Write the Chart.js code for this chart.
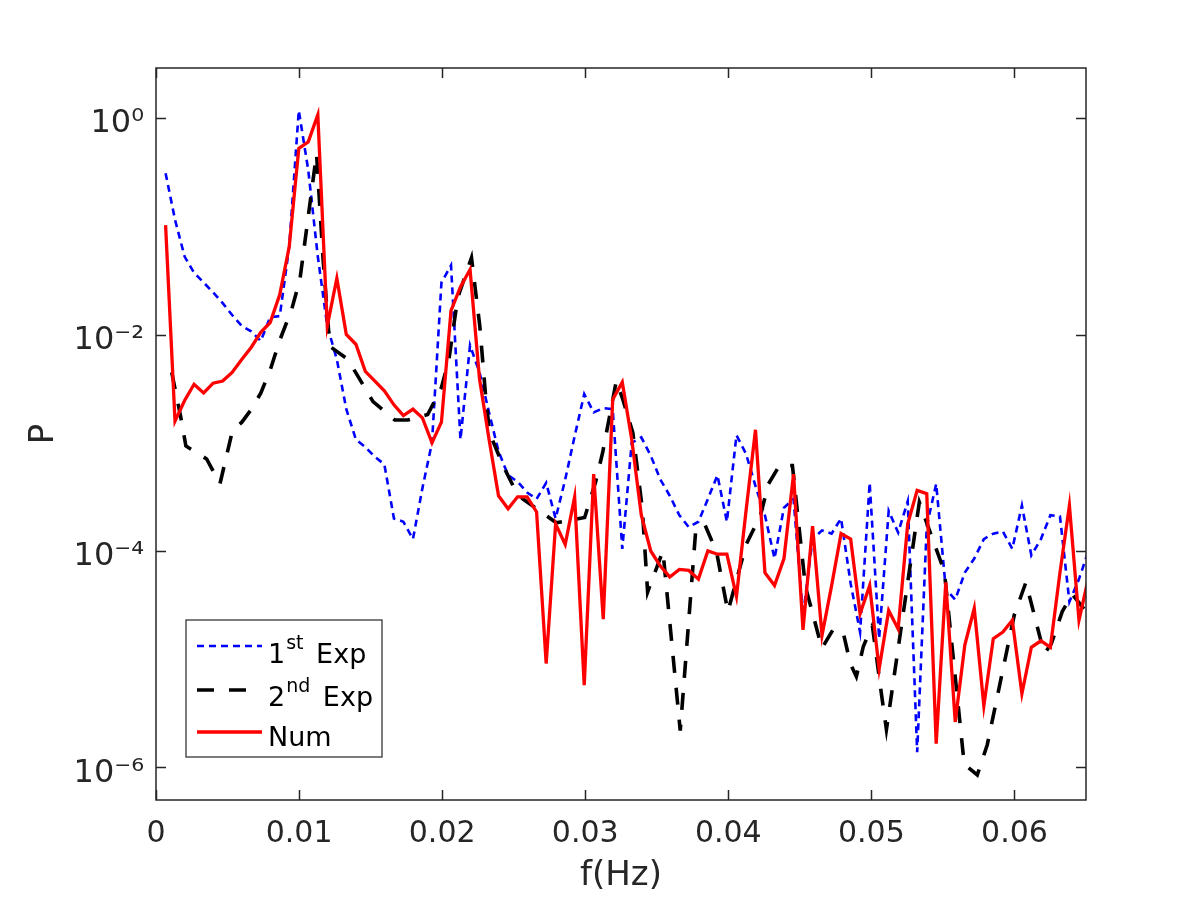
<!DOCTYPE html>
<html>
<head>
<meta charset="utf-8">
<title>P vs f</title>
<script src="https://cdn.jsdelivr.net/npm/chart.js@4.4.1/dist/chart.umd.min.js"></script>
<style>
  html, body { margin: 0; padding: 0; background: #ffffff; }
  #wrap { width: 1200px; height: 900px; }
</style>
</head>
<body>
<div id="wrap"><canvas id="psdChart" width="1200" height="900"></canvas></div>
<script>
// frequency grid (Hz) of the 1st Exp and Num spectra
const freq = [
  0.00067, 0.00133, 0.00200, 0.00266, 0.00333, 0.00399, 0.00466, 0.00532, 0.00599, 0.00665,
  0.00732, 0.00798, 0.00865, 0.00931, 0.00998, 0.01064, 0.01131, 0.01197, 0.01264, 0.01330,
  0.01397, 0.01463, 0.01530, 0.01596, 0.01663, 0.01729, 0.01796, 0.01862, 0.01929, 0.01995,
  0.02062, 0.02128, 0.02195, 0.02261, 0.02328, 0.02394, 0.02461, 0.02527, 0.02594, 0.02660,
  0.02727, 0.02793, 0.02860, 0.02926, 0.02993, 0.03059, 0.03126, 0.03192, 0.03259, 0.03325,
  0.03392, 0.03458, 0.03525, 0.03591, 0.03658, 0.03724, 0.03791, 0.03857, 0.03924, 0.03990,
  0.04057, 0.04123, 0.04190, 0.04256, 0.04323, 0.04389, 0.04456, 0.04522, 0.04589, 0.04655,
  0.04722, 0.04788, 0.04855, 0.04921, 0.04988, 0.05054, 0.05121, 0.05187, 0.05254, 0.05320,
  0.05387, 0.05453, 0.05520, 0.05586, 0.05653, 0.05719, 0.05786, 0.05852, 0.05919, 0.05985,
  0.06052, 0.06118, 0.06185, 0.06251, 0.06318, 0.06384, 0.06451, 0.06517
];

// log10(P)
const exp1Log = [
  -0.51, -0.94, -1.28, -1.43, -1.52, -1.61, -1.71, -1.82, -1.92, -1.97,
  -2.06, -1.84, -1.83, -1.19,  0.07, -0.48, -1.28, -1.92, -2.23, -2.69,
  -2.97, -3.04, -3.13, -3.20, -3.70, -3.73, -3.89, -3.42, -3.00, -1.52,
  -1.36, -2.97, -2.10, -2.35, -2.72, -3.08, -3.30, -3.36, -3.46, -3.52,
  -3.37, -3.70, -3.34, -2.94, -2.55, -2.72, -2.68, -2.69, -3.98, -3.00,
  -2.95, -3.12, -3.34, -3.49, -3.67, -3.78, -3.73, -3.52, -3.30, -3.73,
  -2.93, -3.10, -3.40, -3.67, -4.07, -3.60, -3.52, -4.60, -3.89, -3.81,
  -3.84, -3.70, -4.30, -4.75, -3.37, -4.81, -3.63, -3.83, -3.54, -5.86,
  -3.77, -3.38, -4.35, -4.45, -4.20, -4.07, -3.89, -3.84, -3.82, -3.98,
  -3.58, -4.04, -3.89, -3.67, -3.68, -4.47, -4.26, -4.00
];

const numLog = [
  -0.99, -2.80, -2.61, -2.46, -2.54, -2.45, -2.43, -2.35, -2.23, -2.12,
  -1.98, -1.89, -1.63, -1.19, -0.28, -0.22,  0.03, -1.92, -1.48, -2.00,
  -2.09, -2.34, -2.43, -2.52, -2.65, -2.75, -2.69, -2.77, -3.00, -2.81,
  -1.78, -1.56, -1.40, -2.41, -2.97, -3.49, -3.61, -3.50, -3.50, -3.64,
  -5.04, -3.75, -3.94, -3.50, -5.24, -3.29, -4.63, -2.60, -2.44, -2.97,
  -3.67, -4.00, -4.14, -4.24, -4.17, -4.18, -4.26, -4.00, -4.03, -4.03,
  -4.42, -3.64, -2.88, -4.20, -4.32, -4.07, -3.29, -4.73, -3.77, -4.78,
  -4.32, -3.84, -3.89, -4.58, -4.32, -5.09, -4.55, -4.72, -3.75, -3.44,
  -3.47, -5.78, -4.29, -5.58, -4.87, -4.53, -5.43, -4.81, -4.75, -4.64,
  -5.32, -4.89, -4.83, -4.89, -4.20, -3.58, -4.64, -4.25
];

// 2nd Exp: its own sample points (Hz) and log10(P)
const exp2Freq = [
  0.00110, 0.00171, 0.00209, 0.00354, 0.00447, 0.00534, 0.00600, 0.00667, 0.00733, 0.00800,
  0.00866, 0.00948, 0.01006, 0.01064, 0.01122, 0.01168, 0.01215, 0.01341, 0.01517, 0.01669,
  0.01760, 0.01899, 0.01995, 0.02046, 0.02109, 0.02205, 0.02263, 0.02304, 0.02332, 0.02425,
  0.02519, 0.02565, 0.02693, 0.02798, 0.02996, 0.03073, 0.03122, 0.03217, 0.03263, 0.03333,
  0.03399, 0.03436, 0.03543, 0.03664, 0.03771, 0.03834, 0.03918, 0.03997, 0.04125, 0.04225,
  0.04281, 0.04358, 0.04448, 0.04539, 0.04602, 0.04654, 0.04735, 0.04804, 0.04853, 0.04895,
  0.04944, 0.05007, 0.05068, 0.05105, 0.05335, 0.05510, 0.05649, 0.05740, 0.05810, 0.05999,
  0.06080, 0.06208, 0.06257, 0.06334, 0.06404, 0.06494
];
const exp2Log = [
  -2.35, -2.75, -3.03, -3.15, -3.38, -2.89, -2.81, -2.69, -2.54, -2.32,
  -2.05, -1.77, -1.49, -0.91, -0.33, -1.31, -2.11, -2.23, -2.62, -2.79,
  -2.79, -2.74, -2.49, -2.24, -1.66, -1.29, -1.92, -2.57, -2.91, -3.21,
  -3.46, -3.52, -3.64, -3.74, -3.69, -3.36, -3.09, -2.43, -2.60, -2.91,
  -3.61, -4.38, -4.00, -5.66, -3.83, -3.75, -4.01, -4.56, -3.94, -3.67,
  -3.38, -3.21, -3.21, -4.33, -4.64, -4.90, -4.72, -4.76, -5.04, -5.16,
  -4.88, -4.69, -5.30, -5.65, -3.55, -4.19, -5.97, -6.07, -5.79, -4.59,
  -4.29, -4.95, -4.86, -4.56, -4.40, -4.55
];

const xTicks = [0, 0.01, 0.02, 0.03, 0.04, 0.05, 0.06];
const yTicks = [1e-6, 1e-4, 1e-2, 1];
const legendRows = [
  { base: '1', sup: 'st', rest: ' Exp' },
  { base: '2', sup: 'nd', rest: ' Exp' },
  { base: 'Num', sup: '', rest: '' }
];

const FONT = '"DejaVu Sans", "Open Sans", sans-serif';
const AXIS_COLOR = '#262626';

const toPoints = (xs, logs) => xs.map((x, i) => ({ x: x, y: Math.pow(10, logs[i]) }));

const supChars = { '0': '⁰', '1': '¹', '2': '²', '3': '³', '4': '⁴', '5': '⁵', '6': '⁶', '7': '⁷', '8': '⁸', '9': '⁹', '-': '⁻' };
function powLabel(v) {
  const e = Math.round(Math.log10(v));
  return '10' + String(e).split('').map(c => supChars[c]).join('');
}

// axes box with inward ticks on all four sides
const boxPlugin = {
  id: 'matlabBox',
  afterDatasetsDraw(chart) {
    const { ctx, chartArea: a, scales: { x, y } } = chart;
    const len = 10;
    ctx.save();
    ctx.strokeStyle = AXIS_COLOR;
    ctx.lineWidth = 1.5;
    ctx.beginPath();
    xTicks.forEach(t => {
      const px = Math.round(x.getPixelForValue(t)) + 0.5;
      ctx.moveTo(px, a.bottom); ctx.lineTo(px, a.bottom - len);
      ctx.moveTo(px, a.top); ctx.lineTo(px, a.top + len);
    });
    yTicks.forEach(t => {
      const py = Math.round(y.getPixelForValue(t)) + 0.5;
      ctx.moveTo(a.left, py); ctx.lineTo(a.left + len, py);
      ctx.moveTo(a.right, py); ctx.lineTo(a.right - len, py);
    });
    ctx.stroke();
    ctx.strokeRect(a.left, a.top, a.right - a.left, a.bottom - a.top);
    ctx.restore();
  }
};

// legend box in the lower left corner, with superscripts
const legendPlugin = {
  id: 'matlabLegend',
  afterDraw(chart) {
    const { ctx, chartArea: a } = chart;
    const bx = a.left + 30, by = a.bottom - 180, bw = 196, bh = 137;
    ctx.save();
    ctx.fillStyle = '#ffffff';
    ctx.fillRect(bx, by, bw, bh);
    ctx.strokeStyle = AXIS_COLOR;
    ctx.lineWidth = 1.2;
    ctx.strokeRect(bx, by, bw, bh);

    chart.data.datasets.forEach((ds, i) => {
      const ly = by + 26 + i * 44 - (i === 2 ? 2 : 0);
      ctx.beginPath();
      ctx.strokeStyle = ds.borderColor;
      ctx.lineWidth = ds.borderWidth;
      ctx.setLineDash(ds.borderDash || []);
      ctx.moveTo(bx + 11, ly);
      ctx.lineTo(bx + (ds.borderDash && ds.borderDash[0] > 10 ? 73 : 76), ly);
      ctx.stroke();
      ctx.setLineDash([]);

      const row = legendRows[i];
      const base = by + 43 + i * 43 - (i === 2 ? 3 : 0);
      let tx = bx + 82;
      ctx.fillStyle = '#000000';
      ctx.textBaseline = 'alphabetic';
      ctx.textAlign = 'left';
      ctx.font = '27px ' + FONT;
      ctx.fillText(row.base, tx, base);
      tx += ctx.measureText(row.base).width + 1;
      if (row.sup) {
        ctx.font = '19px ' + FONT;
        ctx.fillText(row.sup, tx, base - 14);
        tx += ctx.measureText(row.sup).width + 4;
        ctx.font = '27px ' + FONT;
        ctx.fillText(row.rest, tx, base);
      }
    });
    ctx.restore();
  }
};

const ctx = document.getElementById('psdChart').getContext('2d');
new Chart(ctx, {
  type: 'scatter',
  data: {
    datasets: [
      {
        label: '1st Exp',
        data: toPoints(freq, exp1Log),
        borderColor: '#0000ff',
        borderWidth: 2.6,
        borderDash: [7, 5],
        order: 3
      },
      {
        label: '2nd Exp',
        data: toPoints(exp2Freq, exp2Log),
        borderColor: '#000000',
        borderWidth: 3.6,
        borderDash: [17, 15],
        order: 2
      },
      {
        label: 'Num',
        data: toPoints(freq, numLog),
        borderColor: '#ff0000',
        borderWidth: 3.3,
        order: 1
      }
    ].map(ds => Object.assign(ds, {
      showLine: true,
      pointRadius: 0,
      pointHoverRadius: 0,
      tension: 0,
      fill: false,
      clip: 0,
      borderJoinStyle: 'miter'
    }))
  },
  options: {
    responsive: false,
    animation: false,
    events: [],
    layout: { padding: { top: 68, right: 114, bottom: 0, left: 0 } },
    plugins: {
      legend: { display: false },
      tooltip: { enabled: false },
      title: { display: false }
    },
    scales: {
      x: {
        type: 'linear',
        min: 0,
        max: 0.065,
        grid: { display: false, drawTicks: false, tickLength: 0 },
        border: { display: false },
        afterBuildTicks: s => { s.ticks = xTicks.map(v => ({ value: v })); },
        afterFit: s => { s.height = 100; },
        ticks: {
          autoSkip: false,
          maxRotation: 0,
          padding: 16,
          color: AXIS_COLOR,
          font: { family: FONT, size: 30 },
          callback: v => (v === 0 ? '0' : v.toFixed(2))
        },
        title: {
          display: true,
          text: 'f(Hz)',
          color: AXIS_COLOR,
          font: { family: FONT, size: 34 },
          padding: { top: 0, bottom: 3 }
        }
      },
      y: {
        type: 'logarithmic',
        min: 5.0e-7,
        max: 2.9,
        grid: { display: false, drawTicks: false, tickLength: 0 },
        border: { display: false },
        afterBuildTicks: s => { s.ticks = yTicks.map(v => ({ value: v })); },
        afterFit: s => { s.width = 156; },
        ticks: {
          autoSkip: false,
          padding: 12,
          labelOffset: 6,
          color: AXIS_COLOR,
          font: { family: FONT, size: 32 },
          callback: v => powLabel(v)
        },
        title: {
          display: true,
          text: 'P',
          color: AXIS_COLOR,
          font: { family: FONT, size: 34 },
          padding: { top: 24, bottom: 0 }
        }
      }
    }
  },
  plugins: [boxPlugin, legendPlugin]
});
</script>
</body>
</html>
